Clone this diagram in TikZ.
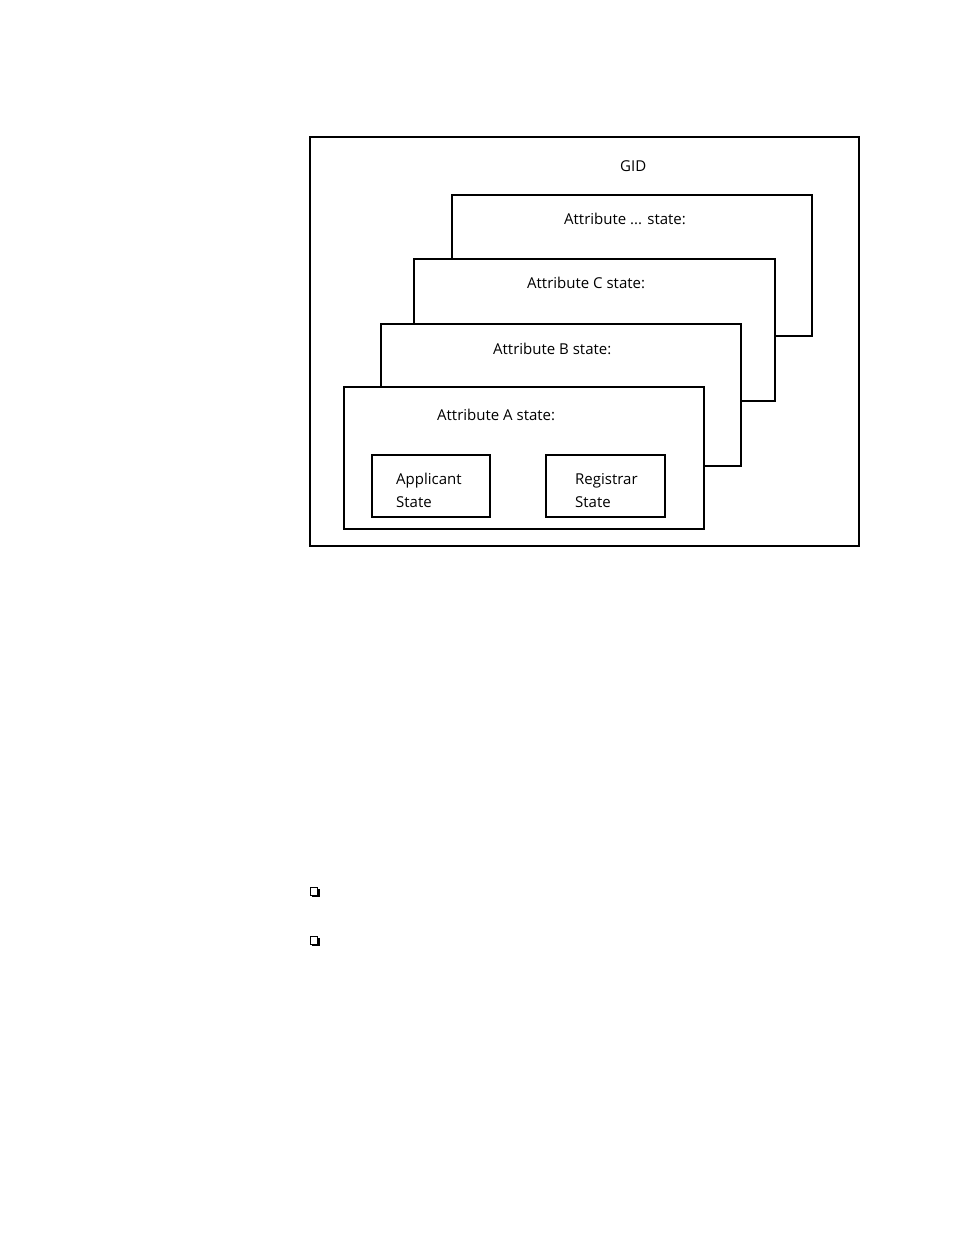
\documentclass[tikz,border=0pt]{standalone}
\usepackage{fontspec}
\setmainfont{Open Sans}
\begin{document}
\begin{tikzpicture}[x=1pt,y=-1pt,
  lay/.style={draw,fill=white,line width=1.6pt},
  txt/.style={anchor=base west,font=\fontsize{15}{18}\selectfont,inner sep=0pt},
  sq/.style={draw,line width=0.7pt}]
\useasboundingbox (0,0) rectangle (954,1235);
\draw[line width=1.2pt] (310,137) rectangle (859,546);
\node[txt] (gid) at (620,171) {GID};
\draw[lay,line width=1.2pt] (452,195) rectangle (812,336);
\node[txt] (ad) at (564,224) {Attribute ... state:};
\draw[lay] (414,259) rectangle (775,401);
\node[txt] (ac) at (527,288) {Attribute C state:};
\draw[lay] (381,324) rectangle (741,466);
\node[txt] (ab) at (493,354) {Attribute B state:};
\draw[lay,line width=1.3pt] (344,387) rectangle (704,529);
\node[txt] (aa) at (437,420) {Attribute A state:};
\draw[line width=1.3pt] (372,455) rectangle (490,517);
\node[txt] (app) at (396,484) {Applicant};
\node[txt] (apps) at (396,507) {State};
\draw[line width=1.3pt] (546,455) rectangle (665,517);
\node[txt] (reg) at (575,484) {Registrar};
\node[txt] (regs) at (575,507) {State};
\foreach \y in {888,937}{
  \fill (312,\y+1) rectangle (320,\y+9);
  \draw[sq,fill=white] (310.5,\y-0.5) rectangle (317.5,\y+7.5);
}
\end{tikzpicture}
\end{document}
